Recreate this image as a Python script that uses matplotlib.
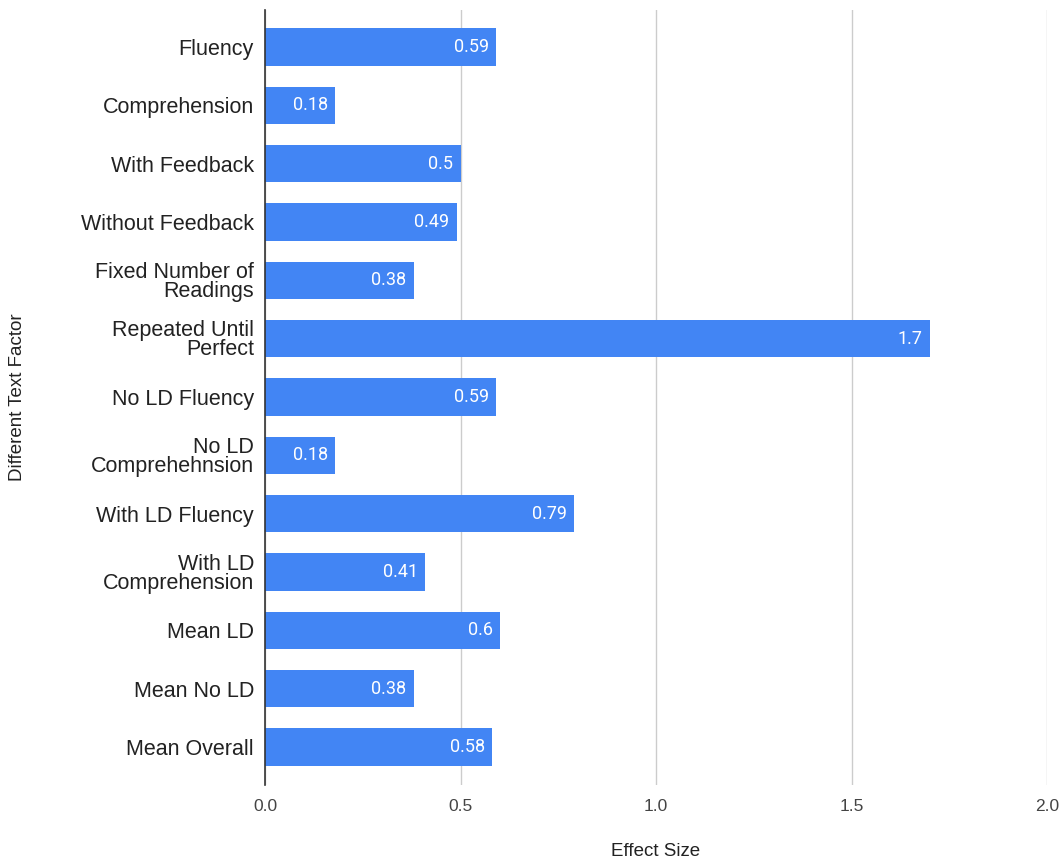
import matplotlib
matplotlib.use("Agg")
import matplotlib.pyplot as plt

categories = ["Fluency", "Comprehension", "With Feedback", "Without Feedback",
              "Fixed Number of\nReadings", "Repeated Until\nPerfect", "No LD Fluency",
              "No LD\nComprehehnsion", "With LD Fluency", "With LD\nComprehension",
              "Mean LD", "Mean No LD", "Mean Overall"]
values = [0.59, 0.18, 0.5, 0.49, 0.38, 1.7, 0.59, 0.18, 0.79, 0.41, 0.6, 0.38, 0.58]
labels = ["0.59", "0.18", "0.5", "0.49", "0.38", "1.7", "0.59", "0.18", "0.79", "0.41", "0.6", "0.38", "0.58"]
xticks = [0.0, 0.5, 1.0, 1.5, 2.0]

W, H = 1064, 861
fig = plt.figure(figsize=(W / 100, H / 100), dpi=100)
ax = fig.add_axes([265 / W, 1 - 785 / H, (1047 - 265) / W, (785 - 10) / H])

color = "#4285F4"
ys = list(range(len(categories)))
bars = ax.barh(ys, values, height=0.64, color=color, zorder=3)
ax.set_xlim(0, 2.0)
ax.set_ylim(12 + 0.65, -0.635)

for b, v, lab in zip(bars, values, labels):
    y = b.get_y() + b.get_height() / 2
    ax.text(v - 0.018, y, lab, ha="right", va="center", color="white",
            fontsize=13, family="Roboto", zorder=4)

ax.set_yticks(ys)
ax.set_yticklabels(categories, fontsize=15.5, family="Liberation Sans", color="#222222",
                   linespacing=0.88)
ax.set_xticks(xticks)
ax.set_xticklabels([f"{t:.1f}" for t in xticks], fontsize=12.5, family="Liberation Sans",
                   color="#444444")
ax.tick_params(axis="y", length=0, pad=8)
ax.tick_params(axis="x", length=0, pad=10)

for s in ["top", "right", "bottom"]:
    ax.spines[s].set_visible(False)
ax.spines["left"].set_color("#333333")
ax.spines["left"].set_linewidth(1.2)
ax.spines["left"].set_zorder(5)

ax.grid(axis="x", color="#cccccc", linewidth=1, zorder=0)
ax.set_axisbelow(True)

fig.text(656 / W, 1 - 851 / H, "Effect Size", ha="center", va="center",
         fontsize=13.5, family="Liberation Sans", color="#222222")
fig.text(18 / W, 1 - 397 / H, "Different Text Factor", ha="center", va="center",
         rotation=90, fontsize=13.5, family="Liberation Sans", color="#222222")

fig.savefig("out.png", dpi=100)
